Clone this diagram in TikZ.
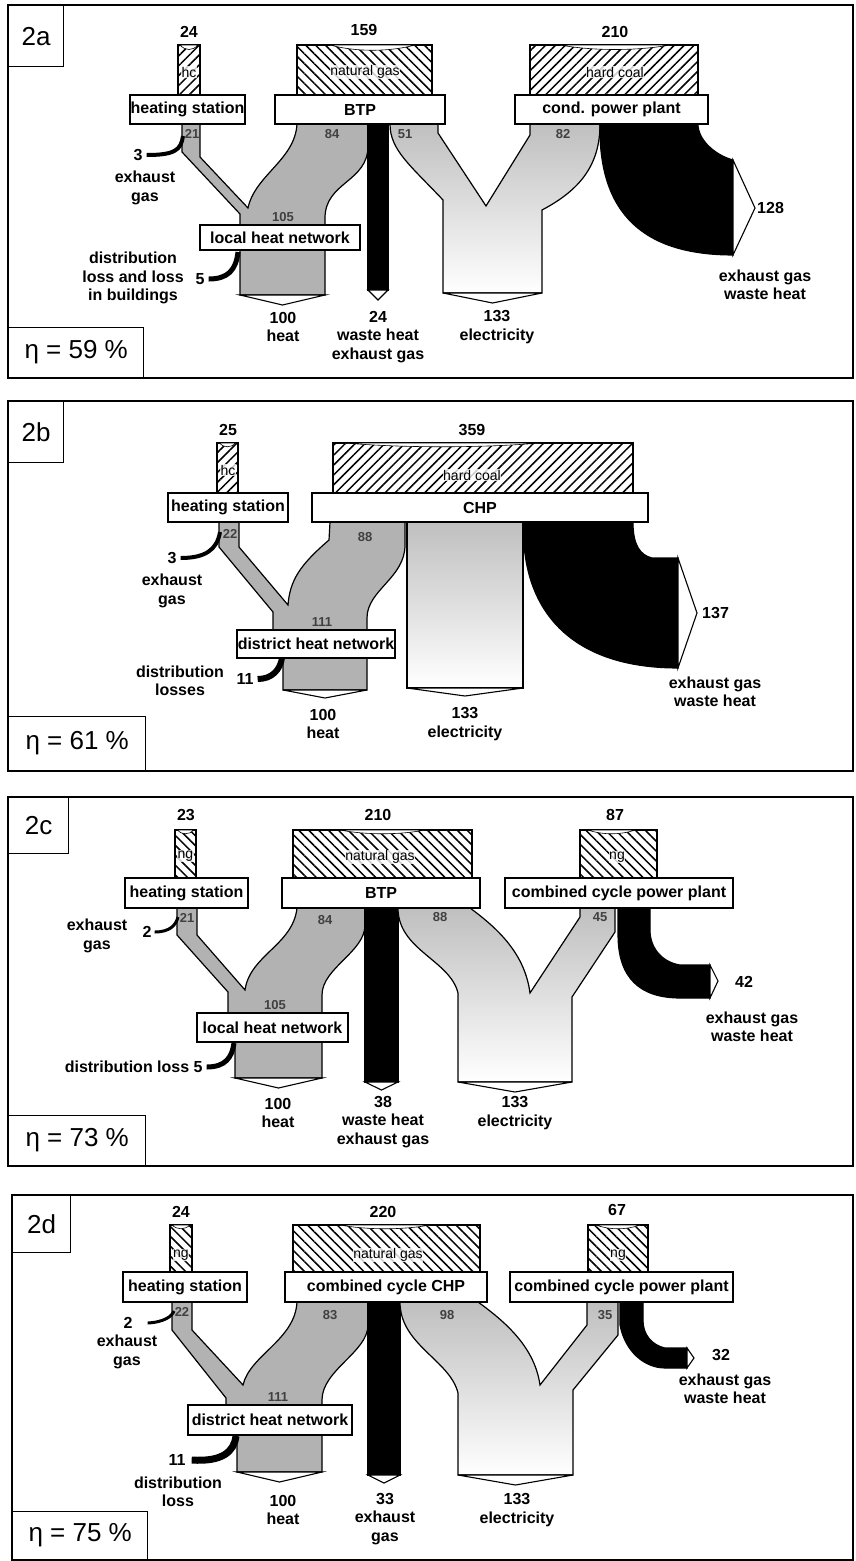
\documentclass[tikz,border=0pt]{standalone}
\usepackage{fontspec}
\setmainfont{Liberation Sans}
\usetikzlibrary{calc}
\usetikzlibrary{patterns.meta}
\newcommand{\lblsize}{\fontsize{16}{18.5}\selectfont\bfseries}
\newcommand{\numsize}{\fontsize{13}{15}\selectfont\bfseries}
\newcommand{\fuelsize}{\fontsize{14}{16}\selectfont}
\newcommand{\tagsize}{\fontsize{26}{30}\selectfont}
\newcommand{\etasize}{\fontsize{26}{30}\selectfont}
% white notch on top of a fuel input: x1, x2, y, depth
\newcommand{\fuellens}[4]{
  \filldraw[lensline] (#1,#3) .. controls ($0.7*(#1,#3)+0.3*(#2,#3)+(0,#4)$)
    and ($0.3*(#1,#3)+0.7*(#2,#3)+(0,#4)$) .. (#2,#3) -- cycle;
}
% white tip under an output flow: x1, x2, y, depth
\newcommand{\outchevron}[4]{
  \filldraw[chevron] (#1,#3) -- ($0.5*(#1,#3)+0.5*(#2,#3)+(0,#4)$) -- (#2,#3) -- cycle;
}
\begin{document}
\begin{tikzpicture}[x=1pt,y=-1pt,
    frame/.style={draw,line width=1.5pt},
    tagbox/.style={draw,line width=1.4pt,fill=white,font=\tagsize,inner sep=0pt},
    etabox/.style={draw,line width=1.4pt,fill=white,font=\etasize,inner sep=0pt},
    plant/.style={draw,line width=1.3pt,fill=white,font=\lblsize,minimum height=29,inner sep=0pt},
    lbl/.style={font=\lblsize,align=center,inner sep=0pt},
    num/.style={font=\numsize,text=black!75,inner sep=0pt},
    fuelname/.style={font=\fuelsize,fill=white,fill opacity=0.8,text opacity=1,inner sep=0.5pt},
    coalfuel/.style={draw,line width=1.3pt,pattern={Lines[angle=45,distance=7pt,line width=1.5pt]}},
    gasfuel/.style={draw,line width=1.3pt,pattern={Lines[angle=-45,distance=7pt,line width=1.5pt]}},
    heatflow/.style={draw,line width=1.2pt,fill=gray!60},
    elecflow/.style={draw,line width=1.2pt,top color=gray!50,bottom color=white},
    lossflow/.style={draw,line width=1.1pt,fill=black},
    chevron/.style={draw,line width=1.1pt,fill=white},
    lensline/.style={draw,line width=0.6pt,fill=white},
    lossline/.style={draw=black,line width=#1},
    lossline/.default=4pt]
  \fill[white] (0,0) rectangle (855,1561);
  \useasboundingbox (0,0) rectangle (855,1561);

  % ---------------- 2a ----------------
  \draw[frame] (8,5) rectangle (853,378);
  \node[tagbox,minimum width=55,minimum height=61,anchor=north west] (tagA) at (8,5) {2a};
  \node[etabox,minimum width=135,minimum height=50,anchor=south west] (etaA) at (8,378) {η = 59 \%};
  % inputs
  \node[lbl] (inHSA) at (189,32) {24};
  \draw[coalfuel] (178,45) rectangle (200,95);
  \fuellens{180}{198}{45}{6}
  \node[fuelname] (fHSA) at (189,72) {hc};
  \node[lbl] (inBTPA) at (364,30) {159};
  \draw[gasfuel] (297,45) rectangle (432,95);
  \fuellens{330}{415}{45}{7}
  \node[fuelname] (fBTPA) at (365,72) {natural gas};
  \node[lbl] (inCPPA) at (615,32) {210};
  \draw[coalfuel] (530,45) rectangle (698,95);
  \fuellens{560}{670}{45}{6}
  \node[fuelname] (fCPPA) at (615,72) {hard coal};
  % heat
  \draw[heatflow] (182,124) -- (182,152) -- (240,214) -- (240,295) -- (325,295)
    -- (325,218) .. controls (325,182) and (368,182) .. (368,146) -- (368,124)
    -- (297,124) .. controls (295,160) and (255,175) .. (248,208)
    -- (200,157) -- (200,124) -- cycle;
  \outchevron{240}{325}{295}{10}
  \node[num] (hsoutA) at (192,134) {21};
  \node[num] (heatBTPA) at (332,134) {84};
  \node[num] (lhninA) at (283,217) {105};
  % waste heat
  \draw[lossflow] (368,124) rectangle (388,290);
  \outchevron{368}{388}{290}{10}
  % electricity
  \draw[elecflow] (390,124) .. controls (390,150) and (410,165) .. (443,200)
    -- (443,293) -- (542,293) -- (542,210) .. controls (580,190) and (600,165) .. (600,124)
    -- (530,124) -- (530,135) -- (486,206) -- (438,133) -- (438,124) -- cycle;
  \outchevron{443}{542}{293}{10}
  \node[num] (elBTPA) at (405,134) {51};
  \node[num] (elCPPA) at (563,134) {82};
  % condensing losses
  \draw[lossflow] (600,124) .. controls (598,215) and (645,255) .. (733,255)
    -- (733,160) .. controls (715,155) and (698,140) .. (698,124) -- cycle;
  \draw[chevron] (733,160) -- (755,208) -- (733,255) -- cycle;
  % plants
  \node[plant,minimum width=115] (hsA) at (187.5,109.5) {heating station};
  \node[plant,minimum width=170] (btpA) at (360,109.5) {BTP};
  \node[plant,minimum width=193] (cppA) at (611.5,109.5) {cond. power plant};
  \node[plant,minimum width=160,minimum height=25] (lhnA) at (280,237.5) {local heat network};
  % losses
  \node[lbl] (exnA) at (138,155) {3};
  \coordinate (exA) at (183,136);
  \draw[lossline=4pt] ([xshift=4pt]exnA.east) .. controls (175,155) and (181,150) .. (exA);
  \node[lbl] (exlA) at (145,188) {exhaust\\gas};
  \node[lbl] (dlnA) at (200,279) {5};
  \coordinate (dlA) at (238,252);
  \draw[lossline=5pt] ([xshift=4pt]dlnA.east) .. controls (228,279) and (236,270) .. (dlA);
  \node[lbl] (dllA) at (133,278) {distribution\\loss and loss\\in buildings};
  % outputs
  \node[lbl] (heatA) at (283,327) {100\\heat};
  \node[lbl] (wasteA) at (378,337) {24\\waste heat\\exhaust gas};
  \node[lbl] (elecA) at (497,327) {133\\electricity};
  \node[lbl,anchor=west] (lossA) at (757,208) {128};
  \node[lbl] (exwA) at (765,285) {exhaust gas\\waste heat};

  % ---------------- 2b ----------------
  \draw[frame] (8,401) rectangle (853,771);
  \node[tagbox,minimum width=55,minimum height=61,anchor=north west] (tagB) at (8,401) {2b};
  \node[etabox,minimum width=137,minimum height=54,anchor=south west] (etaB) at (8,771) {η = 61 \%};
  \node[lbl] (inHSB) at (228,430) {25};
  \draw[coalfuel] (217,443) rectangle (238,493);
  \fuellens{219}{236}{443}{5}
  \node[fuelname] (fHSB) at (228,470) {hc};
  \node[lbl] (inCHPB) at (472,430) {359};
  \draw[coalfuel] (333,443) rectangle (633,493);
  \fuellens{345}{540}{443}{5}
  \node[fuelname] (fCHPB) at (472,475) {hard coal};
  % heat
  \draw[heatflow] (219,522) -- (219,547) -- (273,612) -- (273,645) -- (283,652) -- (283,690)
    -- (367,690) -- (367,618) .. controls (367,590) and (405,578) .. (405,545) -- (405,522)
    -- (330,522) -- (329,540) .. controls (300,565) and (290,580) .. (288,605)
    -- (239,547) -- (239,522) -- cycle;
  \outchevron{283}{367}{690}{8}
  \node[num] (hsoutB) at (230,534) {22};
  \node[num] (heatCHPB) at (365,537) {88};
  \node[num] (dhninB) at (322,622) {111};
  % electricity
  \draw[elecflow] (407,522) rectangle (523,688);
  \outchevron{407}{523}{688}{8}
  % losses of the CHP
  \draw[lossflow] (523,522) -- (524,545) .. controls (530,620) and (580,668) .. (678,668)
    -- (678,558) -- (652,558) .. controls (640,555) and (633,545) .. (633,522) -- cycle;
  \draw[chevron] (678,558) -- (697,613) -- (678,668) -- cycle;
  % plants
  \node[plant,minimum width=120] (hsB) at (228,507.5) {heating station};
  \node[plant,minimum width=336] (chpB) at (480,507.5) {CHP};
  \node[plant,minimum width=158,minimum height=28] (dhnB) at (316,644) {district heat network};
  % losses
  \node[lbl] (exnB) at (172,558) {3};
  \coordinate (exB) at (220,532);
  \draw[lossline=4pt] ([xshift=4pt]exnB.east) .. controls (205,558) and (217,550) .. (exB);
  \node[lbl] (exlB) at (172,591) {exhaust\\gas};
  \node[lbl] (dlnB) at (245,679) {11};
  \coordinate (dlB) at (282,658);
  \draw[lossline=6pt] ([xshift=4pt]dlnB.east) .. controls (272,679) and (280,670) .. (dlB);
  \node[lbl] (dllB) at (180,681) {distribution\\losses};
  % outputs
  \node[lbl] (heatB) at (323,724) {100\\heat};
  \node[lbl] (elecB) at (465,724) {133\\electricity};
  \node[lbl,anchor=west] (lossB) at (702,613) {137};
  \node[lbl] (exwB) at (715,692) {exhaust gas\\waste heat};

  % ---------------- 2c ----------------
  \draw[frame] (8,797) rectangle (853,1166);
  \node[tagbox,minimum width=60,minimum height=56,anchor=north west] (tagC) at (8,797) {2c};
  \node[etabox,minimum width=137,minimum height=50,anchor=south west] (etaC) at (8,1166) {η = 73 \%};
  \node[lbl] (inHSC) at (186,815) {23};
  \draw[gasfuel] (175,830) rectangle (196,878);
  \fuellens{177}{194}{830}{5}
  \node[fuelname] (fHSC) at (185.5,856) {ng};
  \node[lbl] (inBTPC) at (378,815) {210};
  \draw[gasfuel] (293,830) rectangle (472,878);
  \fuellens{340}{425}{830}{5}
  \node[fuelname] (fBTPC) at (380,857) {natural gas};
  \node[lbl] (inCCC) at (615,815) {87};
  \draw[gasfuel] (580,830) rectangle (657,878);
  \fuellens{588}{635}{830}{5}
  \node[fuelname] (fCCC) at (617,857) {ng};
  % heat
  \draw[heatflow] (177,908) -- (177,935) -- (228,992) -- (228,1035) -- (235,1045) -- (235,1078)
    -- (322,1078) -- (322,995) .. controls (322,968) and (365,952) .. (365,925) -- (365,908)
    -- (297,908) .. controls (293,945) and (250,955) .. (245,990)
    -- (197,935) -- (197,908) -- cycle;
  \outchevron{235}{322}{1078}{10}
  \node[num] (hsoutC) at (187,918) {21};
  \node[num] (heatBTPC) at (325,920) {84};
  \node[num] (lhninC) at (275,1005) {105};
  % waste heat
  \draw[lossflow] (365,908) rectangle (398,1082);
  \outchevron{365}{398}{1082}{8}
  % electricity
  \draw[elecflow] (398,908) .. controls (398,950) and (450,960) .. (458,993)
    -- (458,1082) -- (572,1082) -- (572,997) -- (615,932) -- (615,908)
    -- (580,908) -- (580,917) -- (530,993) .. controls (525,955) and (500,930) .. (470,908) -- cycle;
  \outchevron{458}{572}{1082}{10}
  \node[num] (elBTPC) at (440,917) {88};
  \node[num] (elCCC) at (600,917) {45};
  % losses of the combined cycle
  \draw[lossflow] (618,908) -- (618,935) .. controls (618,978) and (640,998) .. (680,998)
    -- (710,998) -- (710,965) -- (680,965) .. controls (662,962) and (650,948) .. (650,930)
    -- (650,908) -- cycle;
  \draw[chevron] (710,965) -- (718,981) -- (710,998) -- cycle;
  % plants
  \node[plant,minimum width=123,minimum height=30] (hsC) at (186.5,893) {heating station};
  \node[plant,minimum width=198,minimum height=30] (btpC) at (381,893) {BTP};
  \node[plant,minimum width=228,minimum height=30] (ccC) at (619,893) {combined cycle power plant};
  \node[plant,minimum width=151,minimum height=29] (lhnC) at (272.5,1027.5) {local heat network};
  % losses
  \node[lbl] (exnC) at (147,932) {2};
  \coordinate (exC) at (178,917);
  \draw[lossline=3pt] ([xshift=3pt]exnC.east) .. controls (170,932) and (176,925) .. (exC);
  \node[lbl] (exlC) at (97,936) {exhaust\\gas};
  \node[lbl] (dlnC) at (198,1067) {5};
  \coordinate (dlC) at (234,1043);
  \draw[lossline=5pt] ([xshift=4pt]dlnC.east) .. controls (225,1067) and (232,1058) .. (dlC);
  \node[lbl] (dllC) at (127,1067) {distribution loss};
  % outputs
  \node[lbl] (heatC) at (278,1113) {100\\heat};
  \node[lbl] (wasteC) at (383,1122) {38\\waste heat\\exhaust gas};
  \node[lbl] (elecC) at (515,1113) {133\\electricity};
  \node[lbl,anchor=west] (lossC) at (735,982) {42};
  \node[lbl] (exwC) at (752,1027) {exhaust gas\\waste heat};

  % ---------------- 2d ----------------
  \draw[frame] (12,1195) rectangle (853,1560);
  \node[tagbox,minimum width=58,minimum height=57,anchor=north west] (tagD) at (12,1195) {2d};
  \node[etabox,minimum width=135,minimum height=48,anchor=south west] (etaD) at (12,1560) {η = 75 \%};
  \node[lbl] (inHSD) at (181,1212) {24};
  \draw[gasfuel] (170,1225) rectangle (192,1272);
  \fuellens{172}{190}{1225}{5}
  \node[fuelname] (fHSD) at (181,1255) {ng};
  \node[lbl] (inCCHPD) at (383,1212) {220};
  \draw[gasfuel] (293,1225) rectangle (480,1272);
  \fuellens{340}{430}{1225}{5}
  \node[fuelname] (fCCHPD) at (388,1255) {natural gas};
  \node[lbl] (inCCD) at (617,1210) {67};
  \draw[gasfuel] (588,1225) rectangle (648,1272);
  \fuellens{596}{640}{1225}{5}
  \node[fuelname] (fCCD) at (618,1255) {ng};
  % heat
  \draw[heatflow] (172,1302) -- (172,1330) -- (226,1398) -- (226,1425) -- (237,1432) -- (237,1472)
    -- (322,1472) -- (322,1400) .. controls (322,1370) and (368,1352) .. (368,1325) -- (368,1302)
    -- (297,1302) .. controls (295,1340) and (250,1355) .. (243,1385)
    -- (192,1330) -- (192,1302) -- cycle;
  \outchevron{237}{322}{1472}{10}
  \node[num] (hsoutD) at (182,1312) {22};
  \node[num] (heatCCHPD) at (330,1315) {83};
  \node[num] (dhninD) at (278,1397) {111};
  % exhaust gas
  \draw[lossflow] (368,1302) rectangle (400,1475);
  \outchevron{368}{400}{1475}{8}
  % electricity
  \draw[elecflow] (400,1302) .. controls (400,1345) and (450,1360) .. (458,1393)
    -- (458,1475) -- (573,1475) -- (573,1390) -- (618,1335) -- (618,1302)
    -- (587,1302) -- (587,1325) -- (540,1385) .. controls (535,1350) and (510,1325) .. (478,1302) -- cycle;
  \outchevron{458}{573}{1475}{10}
  \node[num] (elCCHPD) at (447,1315) {98};
  \node[num] (elCCD) at (605,1315) {35};
  % losses of the combined cycle
  \draw[lossflow] (620,1302) -- (620,1325) .. controls (625,1352) and (645,1368) .. (665,1368)
    -- (687,1368) -- (687,1348) -- (665,1348) .. controls (652,1345) and (643,1335) .. (643,1320)
    -- (643,1302) -- cycle;
  \draw[chevron] (687,1348) -- (694,1358) -- (687,1368) -- cycle;
  % plants
  \node[plant,minimum width=124,minimum height=30] (hsD) at (185,1287) {heating station};
  \node[plant,minimum width=202,minimum height=30] (cchpD) at (386,1287) {combined cycle CHP};
  \node[plant,minimum width=223,minimum height=30] (ccD) at (621.5,1287) {combined cycle power plant};
  \node[plant,minimum width=164,minimum height=30] (dhnD) at (270,1420) {district heat network};
  % losses
  \node[lbl] (exnD) at (128,1323) {2};
  \coordinate (exD) at (174,1311);
  \draw[lossline=3pt] ([xshift=15pt]exnD.east) .. controls (165,1322) and (172,1316) .. (exD);
  \node[lbl] (exlD) at (127,1352) {exhaust\\gas};
  \node[lbl] (dlnD) at (177,1460) {11};
  \coordinate (dlD) at (236,1436);
  \draw[lossline=7pt] ([xshift=6pt]dlnD.east) .. controls (222,1462) and (234,1452) .. (dlD);
  \node[lbl] (dllD) at (178,1492) {distribution\\loss};
  % outputs
  \node[lbl] (heatD) at (283,1510) {100\\heat};
  \node[lbl] (wasteD) at (385,1519) {33\\exhaust\\gas};
  \node[lbl] (elecD) at (517,1510) {133\\electricity};
  \node[lbl,anchor=west] (lossD) at (712,1355) {32};
  \node[lbl] (exwD) at (725,1389) {exhaust gas\\waste heat};
\end{tikzpicture}
\end{document}
